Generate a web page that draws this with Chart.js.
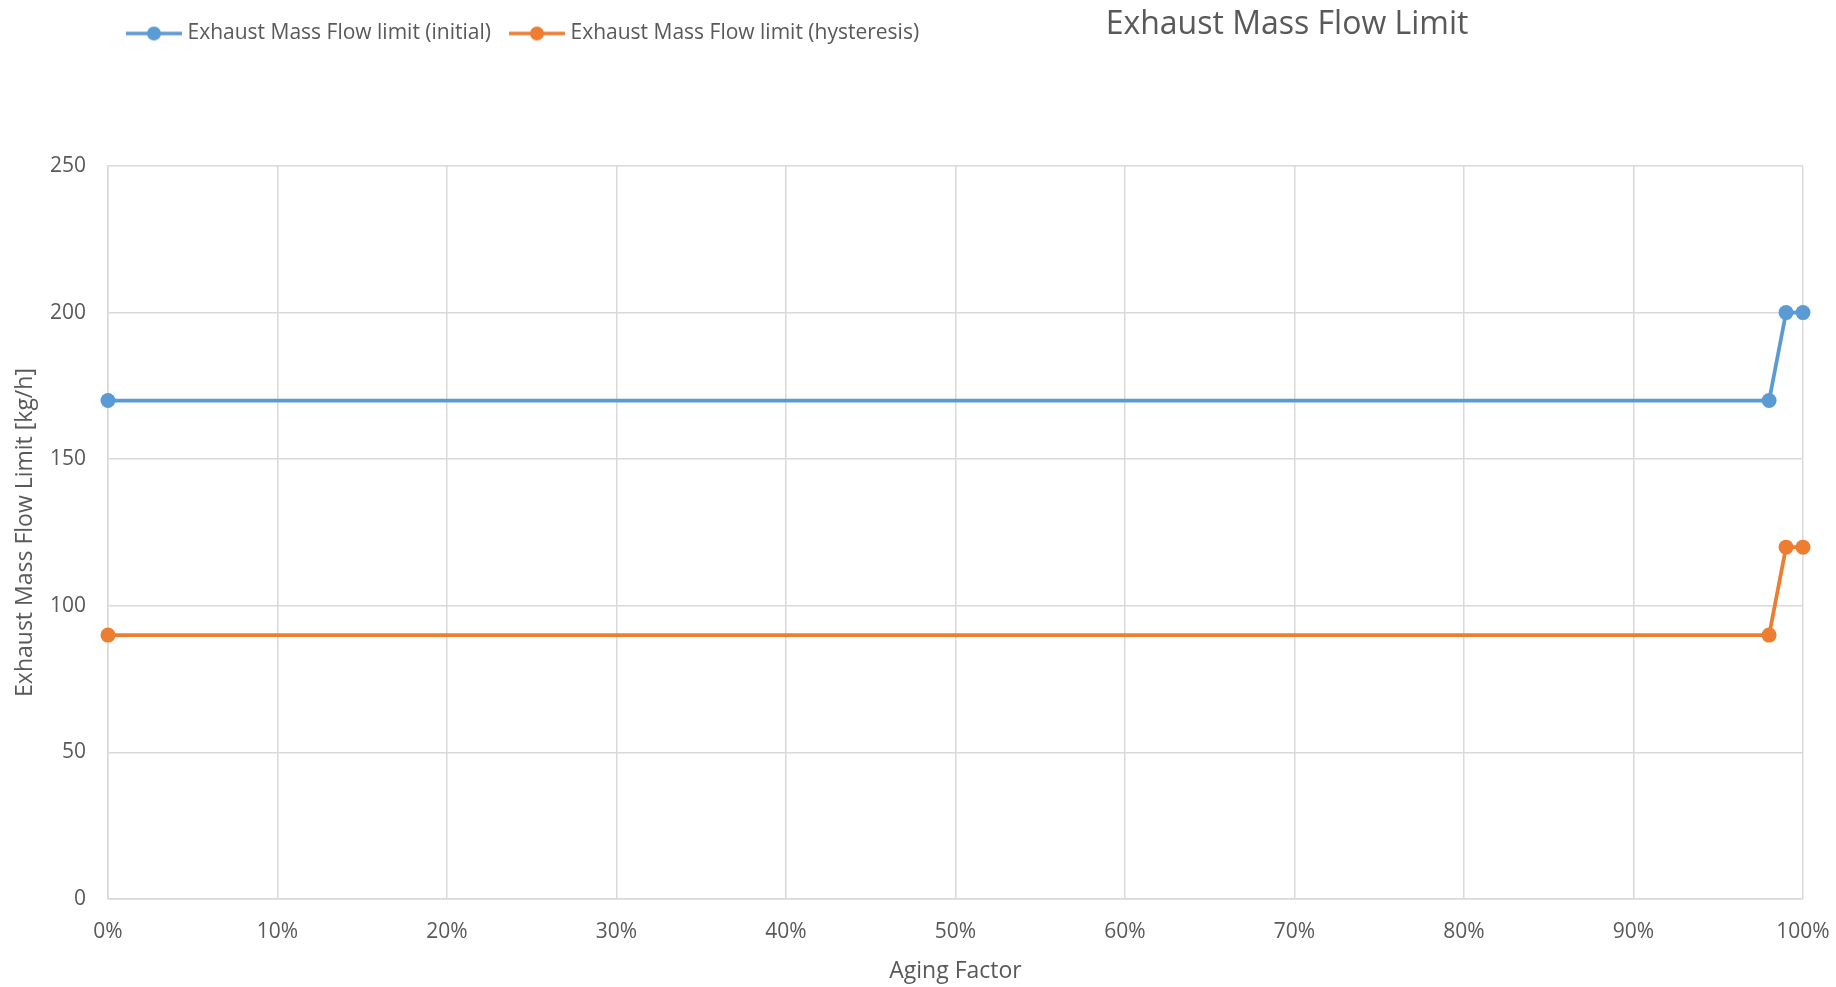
<!DOCTYPE html>
<html>
<head>
<meta charset="utf-8">
<title>Exhaust Mass Flow Limit</title>
<script src="https://cdn.jsdelivr.net/npm/chart.js@4/dist/chart.umd.min.js"></script>
<style>
  html, body { margin: 0; padding: 0; background: #fff; }
  #wrap { width: 1836px; height: 987px; }
</style>
</head>
<body>
<div id="wrap"><canvas id="flowChart" width="1836" height="987"></canvas></div>
<script>
// aging factor (fraction) and the two mass flow limits in kg/h
const agingFactor = [0, 0.98, 0.99, 1.0];
const limitInitial = [170, 170, 200, 200];
const limitHysteresis = [90, 90, 120, 120];
const seriesNames = ['Exhaust Mass Flow limit (initial)', 'Exhaust Mass Flow limit (hysteresis)'];
const chartTitle = 'Exhaust Mass Flow Limit';
const xTitle = 'Aging Factor';
const yTitle = 'Exhaust Mass Flow Limit [kg/h]';

const BLUE = '#5b9bd5';
const ORANGE = '#ed7d31';
const TEXT = '#595959';
const GRID = '#d9d9d9';
const FONT = "'Open Sans', sans-serif";

// legend marker: short line with a dot in the middle
function legendMarker(color) {
  const c = document.createElement('canvas');
  c.width = 56; c.height = 16;
  const g = c.getContext('2d');
  g.strokeStyle = color;
  g.lineWidth = 3.5;
  g.beginPath(); g.moveTo(0, 8); g.lineTo(56, 8); g.stroke();
  g.fillStyle = color;
  g.beginPath(); g.arc(28, 8, 7, 0, Math.PI * 2); g.fill();
  return c;
}

const toPoints = values => values.map((v, i) => ({ x: agingFactor[i], y: v }));

// title sits on the same row as the legend, to the right
const titlePlugin = {
  id: 'sideTitle',
  afterDraw(chart) {
    const ctx = chart.ctx;
    ctx.save();
    ctx.font = '32px ' + FONT;
    ctx.fillStyle = TEXT;
    ctx.textAlign = 'center';
    ctx.textBaseline = 'middle';
    ctx.fillText(chartTitle, 1287, 25);
    ctx.restore();
  }
};

// leave room under the legend before the plot starts
const legendGap = {
  id: 'legendGap',
  beforeInit(chart) {
    const fit = chart.legend.fit;
    chart.legend.fit = function () {
      fit.bind(chart.legend)();
      this.height = 166;
    };
  }
};

new Chart(document.getElementById('flowChart'), {
  type: 'line',
  data: {
    datasets: [
      {
        label: seriesNames[0],
        data: toPoints(limitInitial),
        borderColor: BLUE,
        backgroundColor: BLUE,
        borderWidth: 3.75,
        pointRadius: 7.5,
        pointHoverRadius: 8.5,
        pointBorderWidth: 0,
        clip: false
      },
      {
        label: seriesNames[1],
        data: toPoints(limitHysteresis),
        borderColor: ORANGE,
        backgroundColor: ORANGE,
        borderWidth: 3.75,
        pointRadius: 7.5,
        pointHoverRadius: 8.5,
        pointBorderWidth: 0,
        clip: false
      }
    ]
  },
  options: {
    responsive: false,
    animation: false,
    layout: { padding: { left: 8, right: 0, top: 0, bottom: 0 } },
    scales: {
      x: {
        type: 'linear',
        min: 0,
        max: 1,
        afterFit(scale) {
          scale.height = 88;
          scale.paddingRight = 33; // room for the "100%" label
        },
        grid: { color: GRID, lineWidth: 1.5, drawTicks: false },
        border: { color: GRID, width: 1.5 },
        ticks: {
          stepSize: 0.1,
          autoSkip: false,
          maxRotation: 0,
          padding: 20,
          color: TEXT,
          font: { family: FONT, size: 21 },
          callback: v => Math.round(v * 100) + '%'
        },
        title: {
          display: true,
          text: xTitle,
          color: TEXT,
          font: { family: FONT, size: 23 },
          padding: { top: 12, bottom: 2 }
        }
      },
      y: {
        min: 0,
        max: 250,
        afterFit(scale) { scale.width = 100; },
        grid: { color: GRID, lineWidth: 1.5, drawTicks: false },
        border: { color: GRID, width: 1.5 },
        ticks: {
          stepSize: 50,
          padding: 22,
          color: TEXT,
          font: { family: FONT, size: 21 }
        },
        title: {
          display: true,
          text: yTitle,
          color: TEXT,
          font: { family: FONT, size: 23 },
          padding: { top: 4, bottom: 12 }
        }
      }
    },
    plugins: {
      legend: {
        position: 'top',
        align: 'start',
        fullSize: false,
        labels: {
          usePointStyle: true,
          pointStyleWidth: 46,
          padding: 23,
          color: TEXT,
          font: { family: FONT, size: 21 },
          generateLabels(chart) {
            return chart.data.datasets.map((ds, i) => ({
              text: ds.label,
              datasetIndex: i,
              fontColor: TEXT,
              pointStyle: legendMarker(ds.borderColor),
              lineWidth: 0,
              strokeStyle: ds.borderColor,
              fillStyle: ds.borderColor,
              hidden: !chart.isDatasetVisible(i)
            }));
          }
        }
      },
      tooltip: { enabled: true }
    }
  },
  plugins: [titlePlugin, legendGap]
});
</script>
</body>
</html>
